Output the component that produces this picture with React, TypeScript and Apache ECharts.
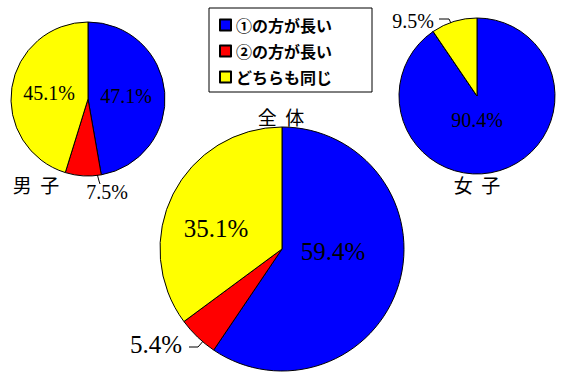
import React, { useEffect, useRef } from "react";
import * as echarts from "echarts";

const categories = ["①の方が長い", "②の方が長い", "どちらも同じ"];
const sliceColors = ["#0000ff", "#ff0000", "#ffff00"];
const totalValues = [59.4, 5.4, 35.1];
const maleValues = [47.1, 7.5, 45.1];
const femaleValues = [90.4, 0, 9.5];
const groupTitles = ["全  体", "男  子", "女  子"];

// label placement (layout only): [x, y, leaderPoints | null] per series / slice
const labelSpots: any[][] = [
  [
    [333, 251, null],
    [156, 344, [[231, 309], [198, 347], [189, 347]]],
    [216, 228, null],
  ],
  [
    [126, 96, null],
    [107, 192, [[94, 162], [99, 181], [100, 184]]],
    [49, 93, null],
  ],
  [
    [477, 120, null],
    [0, 0, null],
    [413, 21, [[466, 55], [449, 19], [439, 19]]],
  ],
];

export default function App() {
  const ref = useRef<HTMLDivElement>(null);
  useEffect(() => {
    document.body.style.margin = "0";
    if (!ref.current) return;
    const chart = echarts.init(ref.current, undefined, { renderer: "svg" });
    const mk = (values: number[], center: number[], radius: number, fontSize: number, si: number) => ({
      type: "pie",
      center,
      radius,
      startAngle: 90,
      clockwise: true,
      silent: true,
      avoidLabelOverlap: false,
      itemStyle: { borderColor: "#000", borderWidth: 1 },
      label: {
        show: true,
        position: "outside",
        formatter: "{c}%",
        color: "#000",
        fontFamily: "Liberation Serif",
        fontSize,
      },
      labelLine: { show: false, lineStyle: { color: "#000", width: 1 } },
      labelLayout: (p: any) => {
        const s = labelSpots[si][p.dataIndex];
        const out: any = { x: s[0], y: s[1], align: "center", verticalAlign: "middle" };
        if (s[2]) out.labelLinePoints = s[2];
        return out;
      },
      data: values.map((v, i) => ({
        name: categories[i],
        value: v,
        itemStyle: { color: sliceColors[i] },
        label: { show: v > 0 },
        labelLine: { show: v > 0 && !!labelSpots[si][i][2] },
      })),
    });
    const titleStyle = (text: string) => ({
      text,
      font: "19px 'Noto Sans CJK JP'",
      fill: "#000",
      align: "center",
      verticalAlign: "middle",
      textAlign: "center",
      textVerticalAlign: "middle",
    });
    chart.setOption({
      animation: false,
      backgroundColor: "#fff",
      legend: {
        data: categories,
        orient: "vertical",
        left: 209,
        top: 8,
        padding: [9, 40, 7, 10],
        itemWidth: 11,
        itemHeight: 11,
        itemGap: 10,
        icon: "rect",
        borderColor: "#000",
        borderWidth: 1,
        selectedMode: false,
        textStyle: { fontFamily: "Noto Sans CJK JP", fontSize: 16, fontWeight: "bold", color: "#000" },
      },
      graphic: [
        { type: "text", x: 281, y: 116, style: titleStyle(groupTitles[0]) },
        { type: "text", x: 36, y: 184, style: titleStyle(groupTitles[1]) },
        { type: "text", x: 477, y: 184, style: titleStyle(groupTitles[2]) },
      ],
      series: [
        mk(totalValues, [282, 249], 122, 25, 0),
        mk(maleValues, [88, 99], 77, 20, 1),
        mk(femaleValues, [477, 96], 78, 20, 2),
      ],
    });
    return () => chart.dispose();
  }, []);
  return <div ref={ref} style={{ width: 567, height: 382 }} />;
}
